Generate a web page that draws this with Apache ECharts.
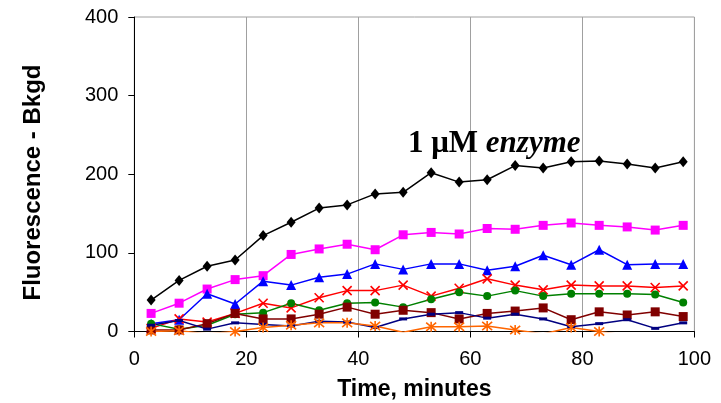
<!DOCTYPE html>
<html>
<head>
<meta charset="utf-8">
<script src="https://cdn.jsdelivr.net/npm/echarts@6/dist/echarts.min.js"></script>
<style>
html,body{margin:0;padding:0;background:#fff;}
#chart{width:721px;height:403px;}
</style>
</head>
<body>
<div id="chart"></div>
<script>
// Time points (minutes)
const time = [3,8,13,18,23,28,33,38,43,48,53,58,63,68,73,78,83,88,93,98];
// Series values (Fluorescence - Bkgd)
const blackDiamond = [40,65,83,91,122,139,157,161,175,177,202,190,193,211,208,216,217,213,208,216];
const magentaSquare = [23,36,54,66,71,98,105,111,104,123,126,124,131,130,135,138,135,133,129,135];
const blueTriangle = [10,15,48,35,64,59,69,73,86,79,86,86,78,83,97,85,104,85,86,86];
const redCross = [4,16,12,23,36,30,43,52,52,59,45,55,67,59,53,59,58,58,56,58];
const greenCircle = [10,3,8,22,24,36,27,36,37,31,41,50,45,52,45,48,48,48,47,37];
const maroonSquare = [2,2,10,23,16,16,22,31,22,27,24,16,23,26,30,15,25,21,25,19];
const navyDash = [8,14,3,11,9,7,13,12,5,16,22,24,17,22,16,6,10,15,4,11];
const orangeStar = [0,1,-3,0,5,8,11,11,7,-1,6,6,7,2,-3,5,0,-5,-5,-8];
// Axis ticks
const xTicks = [0,20,40,60,80,100];
const yTicks = [0,100,200,300,400];
const annotation = ['1 μM ', 'enzyme'];

const pair = arr => arr.map((v, i) => [time[i], v]);
const crossPath = 'path://M0,0L10,10M10,0L0,10';
const starPath = 'path://M0,0L10,10M10,0L0,10M5,-1L5,11';

function mk(name, data, color, symbol, size, stroked) {
  return {
    name, type: 'line', data: pair(data), symbol, symbolSize: size,
    clip: true, animation: false,
    lineStyle: { color, width: 1.5 },
    itemStyle: stroked ? { color: color, borderColor: color, borderWidth: 1.6 } : { color, borderWidth: 0 }
  };
}

const chart = echarts.init(document.getElementById('chart'));
chart.setOption({
  animation: false,
  grid: { left: 134.3, right: 26.6, top: 17, bottom: 71.5, show: true, borderColor: '#a0a0a0', borderWidth: 1, containLabel: false, outerBoundsMode: 'none' },
  xAxis: {
    type: 'value', min: xTicks[0], max: xTicks[xTicks.length-1], interval: xTicks[1]-xTicks[0],
    axisLine: { lineStyle: { color: '#000', width: 1 } },
    axisTick: { show: true, inside: false, length: 6, lineStyle: { color: '#000' } },
    axisLabel: { color: '#000', fontFamily: 'Liberation Sans', fontSize: 20, margin: 18 },
    splitLine: { show: true, lineStyle: { color: '#a0a0a0', width: 1 } },
    name: 'Time, minutes', nameLocation: 'middle', nameGap: 47,
    nameTextStyle: { color: '#000', fontFamily: 'Liberation Sans', fontSize: 23, fontWeight: 'bold' }
  },
  yAxis: {
    type: 'value', min: yTicks[0], max: yTicks[yTicks.length-1], interval: yTicks[1]-yTicks[0],
    axisLine: { show: true, lineStyle: { color: '#000', width: 1 } },
    axisTick: { show: true, inside: false, length: 6, lineStyle: { color: '#000' } },
    axisLabel: { color: '#000', fontFamily: 'Liberation Sans', fontSize: 20, margin: 16 },
    splitLine: { show: false }
  },
  graphic: [
    {
      type: 'text', x: 33, y: 182.5, rotation: Math.PI / 2,
      style: { text: 'Fluorescence - Bkgd', fill: '#000', font: 'bold 24px "Liberation Sans"', textAlign: 'center', textVerticalAlign: 'middle' }
    },
    {
      type: 'text', x: 408, y: 144, z: 100,
      style: {
        text: '{a|' + annotation[0] + '}{b|' + annotation[1] + '}',
        textVerticalAlign: 'middle',
        rich: {
          a: { fontFamily: 'Liberation Serif', fontWeight: 'bold', fontSize: 31, fill: '#000', color: '#000' },
          b: { fontFamily: 'Liberation Serif', fontWeight: 'bold', fontStyle: 'italic', fontSize: 31, fill: '#000', color: '#000' }
        }
      }
    }
  ],
  series: [
    mk('black', blackDiamond, '#000000', 'diamond', [9, 11], false),
    mk('magenta', magentaSquare, '#ff00ff', 'rect', 9, false),
    mk('blue', blueTriangle, '#0000ff', 'triangle', 10, false),
    mk('red', redCross, '#ff0000', crossPath, 9, true),
    mk('green', greenCircle, '#008000', 'circle', 8, false),
    mk('maroon', maroonSquare, '#800000', 'rect', 9, false),
    mk('navy', navyDash, '#000080', 'rect', [8, 3], false),
    mk('orange', orangeStar, '#ff6600', starPath, 10, true)
  ]
});
</script>
</body>
</html>
